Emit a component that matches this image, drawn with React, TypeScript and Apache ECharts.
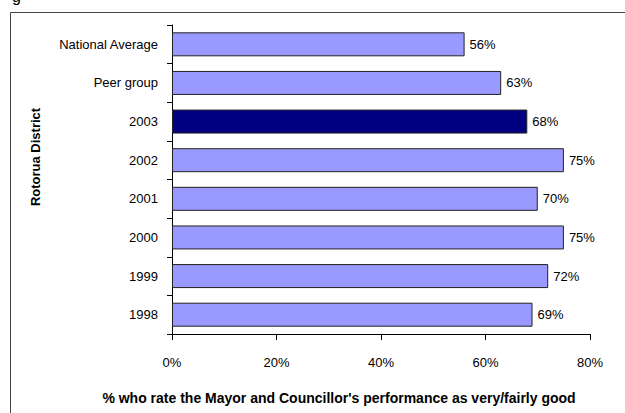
import React, { useEffect, useRef } from "react";
import * as echarts from "echarts";

const categories = ["National Average", "Peer group", "2003", "2002", "2001", "2000", "1999", "1998"];
const values = [56, 63, 68, 75, 70, 75, 72, 69];
const highlighted = "2003";
const xTicks = [0, 20, 40, 60, 80];
const xTitle = "% who rate the Mayor and Councillor's performance as very/fairly good";
const yTitle = "Rotorua District";

const FONT = "'Liberation Sans', Arial, sans-serif";

export default function App() {
  const ref = useRef<HTMLDivElement>(null);

  useEffect(() => {
    if (!ref.current) return;
    const chart = echarts.init(ref.current, null, { renderer: "svg" });
    chart.setOption({
      animation: false,
      backgroundColor: "#ffffff",
      textStyle: { fontFamily: FONT },
      graphic: [
        {
          type: "rect",
          shape: { x: 10.5, y: 12.5, width: 640, height: 420 },
          style: { fill: "none", stroke: "#444", lineWidth: 1 },
          silent: true,
        },
        {
          type: "text",
          left: 12,
          top: -12,
          style: { text: "g", font: `16px ${FONT}`, fill: "#000" },
        },
        {
          type: "text",
          x: 339,
          y: 398,
          style: {
            text: xTitle,
            font: `bold 14px ${FONT}`,
            fill: "#000",
            align: "center",
            verticalAlign: "middle",
          },
        },
        {
          type: "text",
          x: 35,
          y: 157,
          rotation: Math.PI / 2,
          style: {
            text: yTitle,
            font: `bold 13px ${FONT}`,
            fill: "#000",
            align: "center",
            verticalAlign: "middle",
          },
        },
      ],
      grid: { left: 172, top: 25, right: 35, bottom: 79, containLabel: false },
      xAxis: {
        type: "value",
        min: xTicks[0],
        max: xTicks[xTicks.length - 1],
        interval: 20,
        axisLine: { show: true, lineStyle: { color: "#000", width: 1 } },
        axisTick: { show: true, length: 6, lineStyle: { color: "#000" } },
        axisLabel: { formatter: "{value}%", fontSize: 13, color: "#000", margin: 22, fontFamily: FONT },
        splitLine: { show: false },
      },
      yAxis: {
        type: "category",
        data: categories,
        inverse: true,
        axisLine: { show: true, lineStyle: { color: "#000", width: 1 } },
        axisTick: { show: true, length: 5, alignWithLabel: false, lineStyle: { color: "#000" } },
        axisLabel: { fontSize: 13, color: "#000", margin: 14, fontFamily: FONT },
      },
      series: [
        {
          type: "bar",
          barWidth: 24,
          data: values.map((v, i) => ({
            value: v,
            itemStyle: {
              color: categories[i] === highlighted ? "#000080" : "#9999ff",
              borderColor: "#222",
              borderWidth: 1,
            },
          })),
          label: {
            show: true,
            position: "right",
            distance: 5,
            formatter: "{c}%",
            fontSize: 13,
            color: "#000",
            fontFamily: FONT,
          },
        },
      ],
    });
    return () => chart.dispose();
  }, []);

  return (
    <div
      ref={ref}
      style={{ position: "fixed", left: 0, top: 0, width: 625, height: 413 }}
    />
  );
}
